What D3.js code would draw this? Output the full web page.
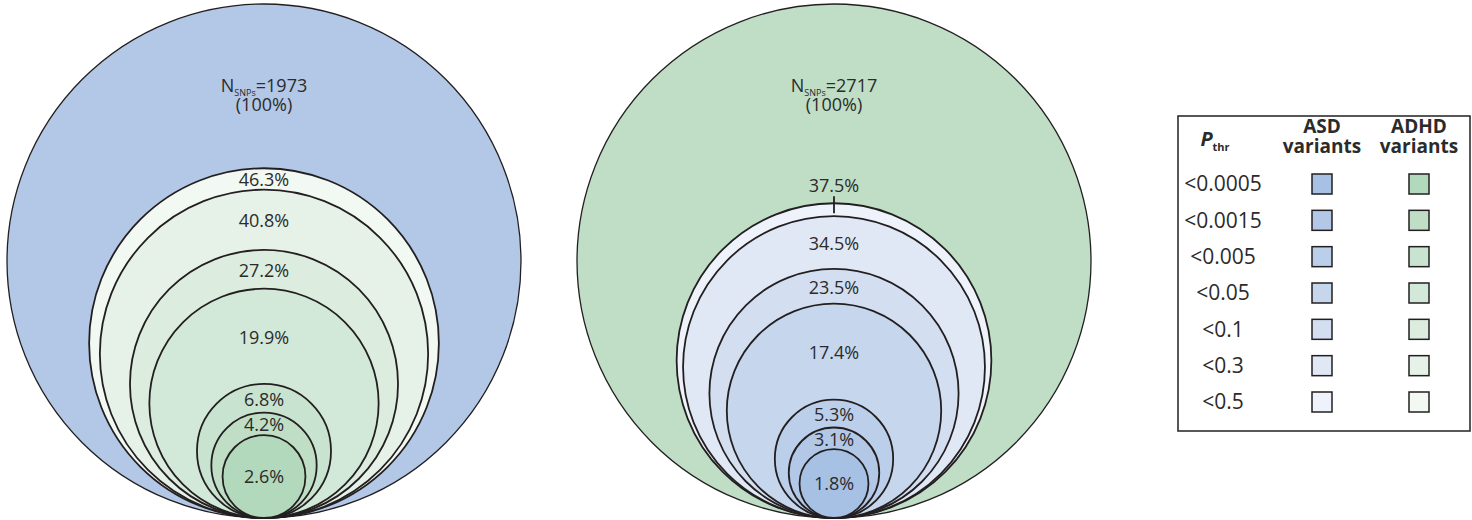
<!DOCTYPE html>
<html>
<head>
<meta charset="utf-8">
<script src="https://cdn.jsdelivr.net/npm/d3@7"></script>
<style>
  html, body { margin: 0; padding: 0; background: #fff; }
  svg { display: block; }
  text { font-family: "Open Sans", "Noto Sans", sans-serif; fill: #2b2b2b; }
</style>
</head>
<body>
<svg id="chart" width="1472" height="520"></svg>
<script>
// P-value thresholds, from strictest to loosest
const thresholds = ["<0.0005", "<0.0015", "<0.005", "<0.05", "<0.1", "<0.3", "<0.5"];

// Shades per threshold for each trait
const asdColors  = ["#a7c1e4", "#b3c8e6", "#bccfea", "#c6d6ed", "#d3dff1", "#e1e8f5", "#eef2fa"];
const adhdColors = ["#b3d9bc", "#bfdec5", "#c8e3cf", "#d2e8d8", "#dcede0", "#e6f1e8", "#f2f8f2"];

// Lead SNP sets (P < 0.0015 in the index trait)
const asdTotal  = 1973;
const adhdTotal = 2717;

// Share (%) of the index set that also passes each threshold in the other trait
const asdInAdhdPct = [2.6, 4.2, 6.8, 19.9, 27.2, 40.8, 46.3];
const adhdInAsdPct = [1.8, 3.1, 5.3, 17.4, 23.5, 34.5, 37.5];

const svg = d3.select("#chart");
const ink = "#231f20";

const baseY = 518;                              // common tangent point at the bottom
const r = d3.scaleSqrt().domain([0, 100]).range([0, 257]);
const xPos = d3.scalePoint().domain(["ASD", "ADHD"]).range([264, 834]);

function drawNest(key, total, outerFill, pcts, fills) {
  const cx = xPos(key);
  const g = svg.append("g");

  // index set: full circle
  g.append("circle")
    .attr("cx", cx).attr("cy", baseY - r(100)).attr("r", r(100))
    .attr("fill", outerFill).attr("stroke", ink).attr("stroke-width", 1.3);

  const rows = pcts.map((p, i) => ({ p, fill: fills[i], i }));
  // largest first so smaller circles sit on top
  const order = rows.slice().sort((a, b) => b.p - a.p);
  g.selectAll("circle.nest").data(order).join("circle")
    .attr("class", "nest")
    .attr("cx", cx)
    .attr("cy", d => baseY - r(d.p))
    .attr("r", d => r(d.p))
    .attr("fill", d => d.fill)
    .attr("stroke", ink).attr("stroke-width", 1.8);

  // title inside the outer circle
  const t = g.append("text").attr("x", cx).attr("y", 92)
    .attr("text-anchor", "middle").style("font-size", "18px");
  t.append("tspan").text("N");
  t.append("tspan").attr("dy", 4).style("font-size", "9px").text("SNPs");
  t.append("tspan").attr("dy", -4).text("=" + total);
  g.append("text").attr("x", cx).attr("y", 111)
    .attr("text-anchor", "middle").style("font-size", "18px").text("(100%)");

  // percentage labels, each in the band between its circle top and the next smaller one
  const top = p => baseY - 2 * r(p);
  const asc = rows.slice().sort((a, b) => a.p - b.p);
  asc.forEach((d, k) => {
    let y, tick = false;
    if (k === 0) {
      y = baseY - r(d.p);
    } else {
      const band = top(asc[k - 1].p) - top(d.p);
      if (band < 16) { y = top(d.p) - 18; tick = true; }
      else y = (top(d.p) + top(asc[k - 1].p)) / 2 + 1;
    }
    g.append("text")
      .attr("x", cx).attr("y", y)
      .attr("dy", "0.35em")
      .attr("text-anchor", "middle")
      .style("font-size", "18px")
      .text(d.p.toFixed(1) + "%");
    if (tick) {
      g.append("line")
        .attr("x1", cx).attr("x2", cx)
        .attr("y1", top(d.p) - 7).attr("y2", top(d.p) + 10)
        .attr("stroke", ink).attr("stroke-width", 1.8);
    }
  });
}

drawNest("ASD", asdTotal, asdColors[1], asdInAdhdPct, adhdColors);
drawNest("ADHD", adhdTotal, adhdColors[1], adhdInAsdPct, asdColors);

// ---- legend ----
const lg = svg.append("g");
const box = { x: 1178, y: 116, w: 292, h: 315 };
lg.append("rect")
  .attr("x", box.x).attr("y", box.y).attr("width", box.w).attr("height", box.h)
  .attr("fill", "#fff").attr("stroke", ink).attr("stroke-width", 1.5);

const cols = { thr: 1223, ASD: 1322, ADHD: 1419 };
const rowY = d3.scalePoint().domain(thresholds).range([184, 402]);

// header
const ph = lg.append("text").attr("x", cols.thr - 8).attr("y", 146)
  .attr("text-anchor", "middle");
ph.append("tspan").style("font-size", "20px").style("font-weight", "700")
  .style("font-style", "italic").text("P");
ph.append("tspan").attr("dy", 5).style("font-size", "11px").style("font-weight", "700").text("thr");

[["ASD", cols.ASD], ["ADHD", cols.ADHD]].forEach(([name, x]) => {
  const h = lg.append("text").attr("x", x).attr("y", 133).attr("text-anchor", "middle")
    .style("font-size", "19px").style("font-weight", "700");
  h.append("tspan").attr("x", x).text(name);
  h.append("tspan").attr("x", x).attr("dy", 20).text("variants");
});

lg.selectAll("text.thr").data(thresholds).join("text")
  .attr("class", "thr")
  .attr("x", cols.thr).attr("y", d => rowY(d))
  .attr("dy", "0.35em").attr("text-anchor", "middle")
  .style("font-size", "21px")
  .text(d => d);

const sq = 20;
lg.selectAll("rect.asd").data(thresholds).join("rect")
  .attr("class", "asd")
  .attr("x", cols.ASD - sq / 2).attr("y", d => rowY(d) - sq / 2)
  .attr("width", sq).attr("height", sq)
  .attr("fill", (d, i) => asdColors[i]).attr("stroke", ink).attr("stroke-width", 1.5);
lg.selectAll("rect.adhd").data(thresholds).join("rect")
  .attr("class", "adhd")
  .attr("x", cols.ADHD - sq / 2).attr("y", d => rowY(d) - sq / 2)
  .attr("width", sq).attr("height", sq)
  .attr("fill", (d, i) => adhdColors[i]).attr("stroke", ink).attr("stroke-width", 1.5);
</script>
</body>
</html>
